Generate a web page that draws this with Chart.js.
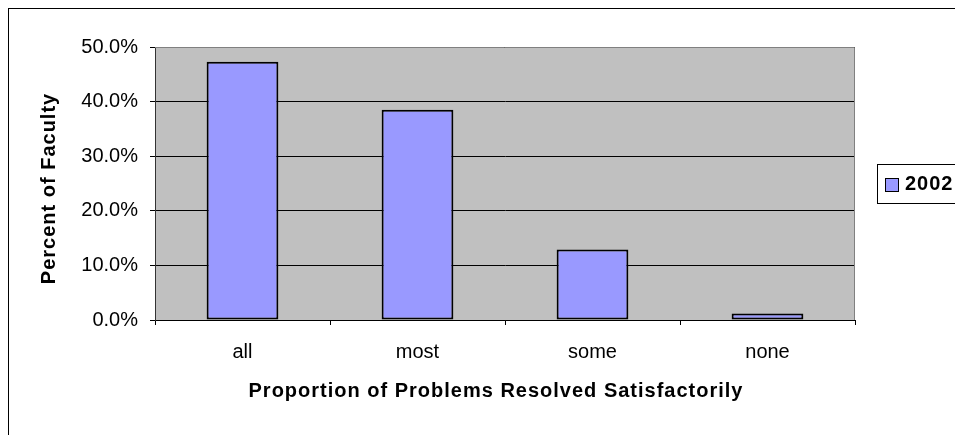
<!DOCTYPE html>
<html>
<head>
<meta charset="utf-8">
<script src="https://cdn.jsdelivr.net/npm/chart.js@4/dist/chart.umd.min.js"></script>
<style>
  html, body { margin: 0; padding: 0; background: #fff; }
  #wrap { width: 955px; height: 435px; position: relative; }
</style>
</head>
<body>
<div id="wrap"><canvas id="c" width="955" height="435"></canvas></div>
<script>
// Share of faculty by how many of their problems were resolved
const categories = ['all', 'most', 'some', 'none'];
const seriesLabel = '2002';
const values2002 = [47.3, 38.5, 12.9, 1.2];
const yTicks = [0, 10, 20, 30, 40, 50];

const FONT = '"Liberation Sans", Arial, sans-serif';
const BAR_FILL = '#9999FF';

// bold axis titles are drawn slightly spaced out and nudged off-centre
function spacedTitle(scale, dx, dy) {
  if (scale._spacedTitle) return;
  const orig = scale.drawTitle;
  scale.drawTitle = function () {
    const ctx = this.ctx;
    ctx.save();
    ctx.translate(dx, dy);
    ctx.letterSpacing = '1px';
    orig.apply(this, arguments);
    ctx.restore();
  };
  scale._spacedTitle = true;
}

// gray plot background, plot border and the outer frame
const frame = {
  id: 'frame',
  beforeDraw(chart) {
    const { ctx, chartArea: a } = chart;
    ctx.save();
    ctx.fillStyle = '#fff';
    ctx.fillRect(0, 0, chart.width, chart.height);
    ctx.strokeStyle = '#000';
    ctx.lineWidth = 1;
    ctx.strokeRect(8.5, 8.5, chart.width + 20, chart.height + 20);
    ctx.fillStyle = '#C0C0C0';
    ctx.fillRect(a.left, a.top, a.right - a.left, a.bottom - a.top);
    ctx.restore();
  },
  afterDatasetsDraw(chart) {
    const { ctx, chartArea: a } = chart;
    ctx.save();
    ctx.strokeStyle = '#808080';
    ctx.lineWidth = 1;
    ctx.beginPath();
    ctx.moveTo(a.left, a.top + 0.5);
    ctx.lineTo(a.right - 0.5, a.top + 0.5);
    ctx.lineTo(a.right - 0.5, a.bottom);
    ctx.stroke();
    ctx.restore();
  }
};

// boxed legend at the right edge
const boxLegend = {
  id: 'boxLegend',
  afterDraw(chart) {
    const { ctx } = chart;
    const ds = chart.data.datasets[0];
    ctx.save();
    ctx.fillStyle = '#fff';
    ctx.strokeStyle = '#000';
    ctx.lineWidth = 1;
    ctx.fillRect(877.5, 164.5, 100, 39);
    ctx.strokeRect(877.5, 164.5, 100, 39);
    ctx.fillStyle = ds.backgroundColor;
    ctx.fillRect(885.5, 178.5, 13, 13);
    ctx.strokeRect(885.5, 178.5, 13, 13);
    ctx.fillStyle = '#000';
    ctx.font = 'bold 20px ' + FONT;
    ctx.letterSpacing = '1px';
    ctx.textBaseline = 'middle';
    ctx.textAlign = 'left';
    ctx.fillText(ds.label, 905, 184.5);
    ctx.restore();
  }
};

new Chart(document.getElementById('c'), {
  type: 'bar',
  data: {
    labels: categories,
    datasets: [{
      label: seriesLabel,
      data: values2002,
      backgroundColor: BAR_FILL,
      borderColor: '#000',
      borderWidth: 2,
      borderSkipped: false,
      barPercentage: 0.41,
      categoryPercentage: 1
    }]
  },
  options: {
    responsive: false,
    animation: false,
    devicePixelRatio: 1,
    layout: { padding: { left: 0, top: 47, right: 100, bottom: 0 } },
    plugins: {
      legend: { display: false },
      tooltip: { enabled: false }
    },
    scales: {
      x: {
        offset: true,
        grid: { display: true, drawOnChartArea: false, offset: true, color: '#000', tickLength: 5, lineWidth: 1 },
        border: { display: true, color: '#000', width: 1 },
        ticks: { color: '#000', padding: 15, font: { family: FONT, size: 20 } },
        title: {
          display: true,
          text: 'Proportion of Problems Resolved Satisfactorily',
          color: '#000',
          font: { family: FONT, size: 20, weight: 'bold' },
          padding: { top: 0, bottom: 32 }
        },
        afterFit(scale) { scale.height = 115; spacedTitle(scale, -9, 0); }
      },
      y: {
        min: 0,
        max: 50,
        afterBuildTicks(scale) { scale.ticks = yTicks.map(v => ({ value: v })); },
        grid: { color: '#000', tickLength: 5, lineWidth: 1 },
        border: { display: true, color: '#333', width: 1 },
        ticks: {
          color: '#000',
          padding: 12,
          font: { family: FONT, size: 20 },
          callback: v => v.toFixed(1) + '%'
        },
        title: {
          display: true,
          text: 'Percent of Faculty',
          color: '#000',
          font: { family: FONT, size: 20, weight: 'bold' },
          padding: { top: 37, bottom: 0 }
        },
        afterFit(scale) { scale.width = 155; spacedTitle(scale, 0, 5); }
      }
    }
  },
  plugins: [frame, boxLegend]
});
</script>
</body>
</html>
